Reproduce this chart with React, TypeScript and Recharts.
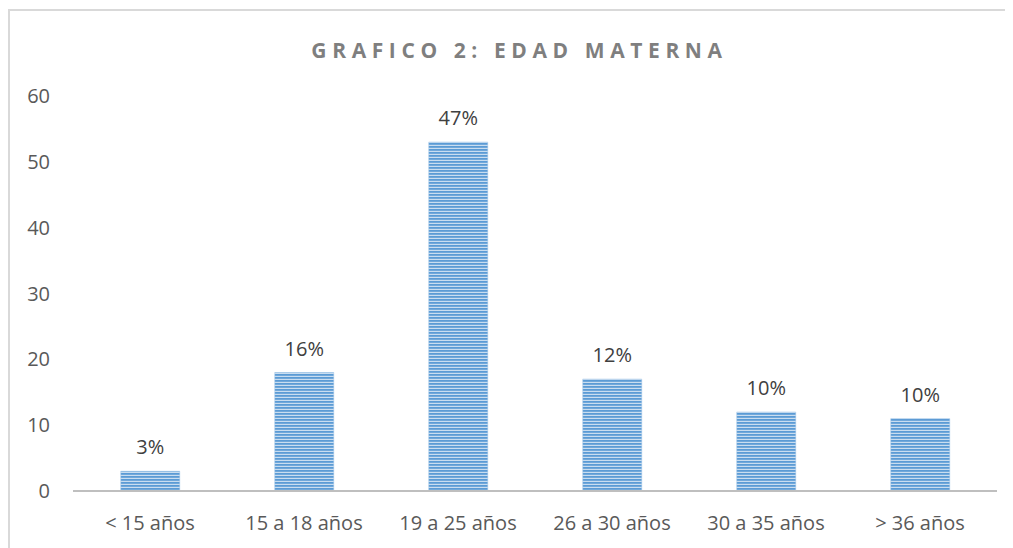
import { BarChart, Bar, XAxis, YAxis, LabelList } from 'recharts'

const categories = ['< 15 años', '15 a 18 años', '19 a 25 años', '26 a 30 años', '30 a 35 años', '> 36 años']
const counts = [3, 18, 53, 17, 12, 11]
const percentLabels = ['3%', '16%', '47%', '12%', '10%', '10%']
const yTicks = [0, 10, 20, 30, 40, 50, 60]

const data = categories.map((name, i) => ({ name, value: counts[i], pct: percentLabels[i] }))

const FONT = '"Open Sans", "Liberation Sans", sans-serif'
const TEXT = '#595959'

export default function App() {
  return (
    <div style={{ position: 'relative', width: 1005, height: 540, overflow: 'hidden' }}>
      {/* borde del gráfico (recortado a la derecha y abajo como en la captura) */}
      <div
        style={{
          position: 'absolute', left: 0, top: 1, width: 1040, height: 600,
          border: '2px solid #d9d9d9', boxSizing: 'border-box',
        }}
      />
      <div
        style={{
          position: 'absolute', left: 9, top: 28, width: 1005, textAlign: 'center',
          fontFamily: FONT, fontWeight: 'bold', fontSize: 21, letterSpacing: 5.6, color: '#7f7f7f',
        }}
      >
        GRAFICO 2: EDAD MATERNA
      </div>
      <div style={{ position: 'absolute', left: 0, top: 0 }}>
        <BarChart
          width={1005}
          height={540}
          data={data}
          margin={{ top: 88, right: 16, bottom: 0, left: 0 }}
          barCategoryGap="31%"
        >
          <defs>
            <pattern id="stripes" width="6" height="3" patternUnits="userSpaceOnUse">
              <rect width="6" height="3" fill="#c9ddf0" />
              <rect width="6" height="1.8" fill="#5b9bd5" />
            </pattern>
          </defs>
          <XAxis
            dataKey="name"
            height={57}
            tickLine={false}
            axisLine={{ stroke: '#bfbfbf', strokeWidth: 2 }}
            tick={{ fill: TEXT, fontSize: 20, fontFamily: FONT }}
            tickMargin={19}
            interval={0}
          />
          <YAxis
            width={65}
            domain={[0, 60]}
            ticks={yTicks}
            axisLine={false}
            tickLine={false}
            tickMargin={17}
            tick={{ fill: TEXT, fontSize: 20, fontFamily: FONT }}
          />
          <Bar dataKey="value" fill="url(#stripes)" stroke="#9dc3e6" strokeWidth={0.5} isAnimationActive={false}>
            <LabelList
              dataKey="pct"
              position="top"
              offset={17}
              style={{ fill: '#404040', fontSize: 20, fontFamily: FONT }}
            />
          </Bar>
        </BarChart>
      </div>
    </div>
  )
}
